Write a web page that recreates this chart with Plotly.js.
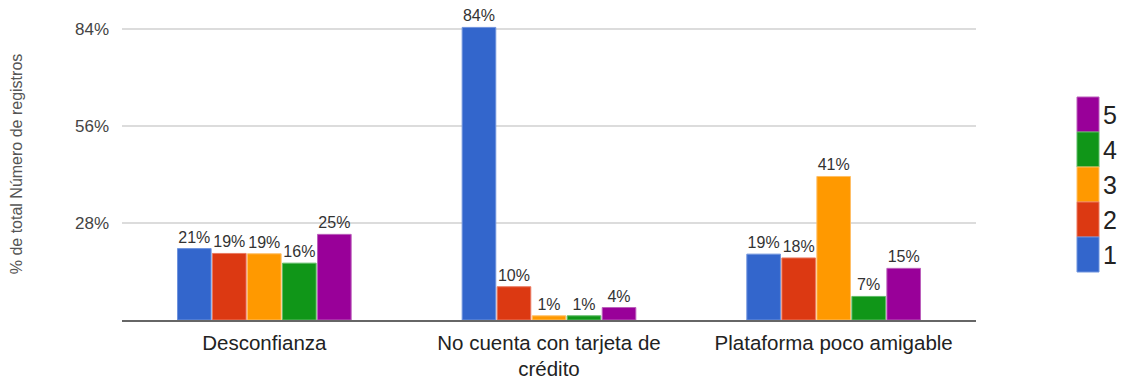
<!DOCTYPE html>
<html><head><meta charset="utf-8">
<script src="https://cdn.plot.ly/plotly-3.0.1.min.js"></script>
<style>html,body{margin:0;padding:0;background:#fff}#chart{width:1122px;height:384px}</style>
</head><body><div id="chart"></div>
<script>
const categories = ["Desconfianza", "No cuenta con tarjeta de<br>crédito", "Plataforma poco amigable"];
const seriesNames = ["1", "2", "3", "4", "5"];
const seriesColors = ["#3366cc", "#dc3912", "#ff9900", "#109618", "#990099"];
const borderColors = ["#6f93dd", "#ea7a60", "#ffbf66", "#5fbb66", "#bb5fbb"];
const s1 = [20.6, 84.4, 19.0];
const s2 = [19.2, 9.6, 17.9];
const s3 = [19.1, 1.2, 41.4];
const s4 = [16.4, 1.2, 6.8];
const s5 = [24.7, 3.6, 14.9];
const seriesValues = [s1, s2, s3, s4, s5];
const yTicks = [28, 56, 84];

const traces = seriesValues.map((vals, i) => ({
  type: "bar",
  name: seriesNames[i],
  x: categories,
  y: vals,
  text: vals.map(v => Math.round(v) + "%"),
  textposition: "outside",
  cliponaxis: false,
  textfont: {size: 16, color: "#333"},
  marker: {color: seriesColors[i], line: {color: borderColors[i], width: 1}},
  hoverinfo: "none",
  showlegend: false
}));

// custom legend (tall swatches stacked, 5 at top)
const shapes = [];
const annotations = [];
const plotL = 122, plotR = 976, plotT = 8, plotB = 320;
const pw = plotR - plotL, ph = plotB - plotT;
const px = x => (x - plotL) / pw;
const py = y => (plotB - y) / ph;
const swTop = 97, swH = 35, swL = 1077, swR = 1099;
for (let k = 0; k < seriesNames.length; k++) {
  const i = seriesNames.length - 1 - k;
  const y0 = swTop + k * swH, y1 = y0 + swH;
  shapes.push({type: "rect", xref: "paper", yref: "paper",
    x0: px(swL), x1: px(swR), y0: py(y1), y1: py(y0),
    fillcolor: seriesColors[i], line: {color: borderColors[i], width: 1}});
  annotations.push({xref: "paper", yref: "paper", x: px(swR + 2), y: py((y0 + y1) / 2),
    xanchor: "left", yanchor: "middle", showarrow: false, text: seriesNames[i],
    font: {size: 25, color: "#222"}});
}

const layout = {
  width: 1122, height: 384,
  margin: {l: plotL, r: 1122 - plotR, t: plotT, b: 384 - plotB},
  paper_bgcolor: "#fff", plot_bgcolor: "#fff",
  font: {family: "Liberation Sans, Arial, Helvetica, sans-serif", color: "#333"},
  barmode: "group",
  bargap: 0.385,
  bargroupgap: 0.04,
  showlegend: false,
  xaxis: {
    tickfont: {size: 20.5, color: "#222"},
    ticklabelstandoff: 3,
    showline: true, linecolor: "#666", linewidth: 2,
    ticks: "", showgrid: false, fixedrange: true
  },
  yaxis: {
    range: [0, 90],
    tickvals: yTicks,
    ticktext: yTicks.map(v => v + "%"),
    tickfont: {size: 17, color: "#444"},
    ticklabelstandoff: 12,
    showgrid: true, gridcolor: "#dcdcdc", gridwidth: 2,
    zeroline: false, showline: false, fixedrange: true,
    title: {text: "% de total Número de registros", font: {size: 16, color: "#555"}, standoff: 48}
  },
  shapes: shapes,
  annotations: annotations
};

Plotly.newPlot("chart", traces, layout, {displayModeBar: false, staticPlot: true});
</script></body></html>
